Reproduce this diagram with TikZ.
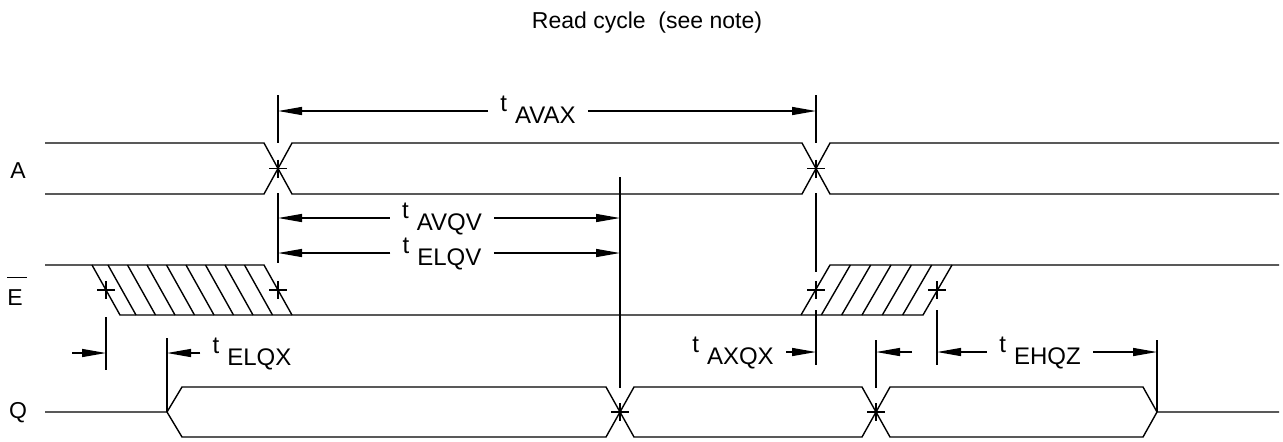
\documentclass[tikz,border=0pt]{standalone}
\usepackage{fontspec}
\setmainfont{Liberation Sans}
\usetikzlibrary{arrows.meta}

\tikzset{
  wave/.style={line width=0.7pt},
  guide/.style={line width=0.7pt},
  dim/.style={line width=0.7pt, -{Triangle[length=12pt,width=4pt]}},
  tlab/.style={font=\fontsize{12}{14}\selectfont, inner xsep=6pt, inner ysep=0pt, anchor=base},
  sig/.style={font=\fontsize{11.5}{13}\selectfont, inner sep=0pt},
  edgemark/.pic={\draw[line width=0.7pt] (-9,0) -- (9,0) (0,-9) -- (0,9);},
}
\newcommand\tsub[1]{t\hspace{4pt}\raisebox{-6pt}{#1}}

\begin{document}
\begin{tikzpicture}[x=0.5pt, y=-0.5pt]
    \useasboundingbox (0,0) rectangle (1283,441);
    \node[font=\fontsize{11.5}{13}\selectfont, anchor=base] (title) at (647,28) {Read cycle\ \ (see note)};

    % signal names
    \node[sig] (lA) at (18,171) {A};
    \node[sig] (lE) at (15,298) {E};
    \draw[guide] ([xshift=-4pt,yshift=6pt]lE.north) -- ([xshift=6pt,yshift=6pt]lE.north);
    \node[sig] (lQ) at (18,413) {Q};

    % A
    \draw[wave] (45,143) -- (264,143) -- (292,194) -- (802,194) -- (830,143) -- (1279,143);
    \draw[wave] (45,194) -- (264,194) -- (292,143) -- (802,143) -- (830,194) -- (1279,194);

    % E
    \draw[wave] (45,265) -- (264,265) -- (292,315);
    \draw[wave] (92,265) -- (120,315) -- (923,315) -- (952,265);
    \draw[wave] (801,315) -- (830,265) -- (1279,265);
    \foreach \k in {1,...,8}
        \draw[wave] (264-19.5*\k,265) -- ++(28,50);
    \foreach \k in {1,...,5}
        \draw[wave] (830+20.33*\k,265) -- ++(-29,50);

    % Q
    \draw[wave] (45,412) -- (167,412) -- (182,387) -- (606,387) -- (634,437) -- (862,437) -- (890,387) -- (1143,387) -- (1157,412) -- (1279,412);
    \draw[wave] (167,412) -- (182,437) -- (606,437) -- (634,387) -- (862,387) -- (890,437) -- (1143,437) -- (1157,412);

    % edge marks
    \foreach \p in {(278,168.5),(816,168.5),(106,290),(278,290),(816,290),(937,290),(620,412),(876,412)}
        \pic at \p {edgemark};

    % reference lines
    \draw[guide] (278,95) -- (278,143) (278,193) -- (278,263);
    \draw[guide] (816,95) -- (816,143) (816,193) -- (816,272) (816,310) -- (816,365);
    \draw[guide] (620,177) -- (620,388);
    \draw[guide] (106,317) -- (106,370);
    \draw[guide] (167,338) -- (167,412);
    \draw[guide] (876,340) -- (876,388);
    \draw[guide] (937,310) -- (937,365);
    \draw[guide] (1157,340) -- (1157,412);

    % arrow ends
    \coordinate (avax-l) at (278,111);
    \coordinate (avax-r) at (816,111);
    \coordinate (avqv-l) at (278,218);
    \coordinate (avqv-r) at (620,218);
    \coordinate (elqv-l) at (278,253);
    \coordinate (elqv-r) at (620,253);
    \coordinate (ehl-from) at (72,353);
    \coordinate (ehl) at (106,353);
    \coordinate (elqx) at (167,353);
    \coordinate (axqx) at (816,352);
    \coordinate (qz-from) at (912,352);
    \coordinate (qz) at (876,352);
    \coordinate (ehqz-l) at (937,352);
    \coordinate (ehqz-r) at (1157,352);

    % timing labels
    \node[tlab] (tavax) at (538,111) {\tsub{AVAX}};
    \node[tlab] (tavqv) at (442,218) {\tsub{AVQV}};
    \node[tlab] (telqv) at (442,253) {\tsub{ELQV}};
    \node[tlab] (telqx) at (252,353) {\tsub{ELQX}};
    \node[tlab] (taxqx) at (733,352) {\tsub{AXQX}};
    \node[tlab] (tehqz) at (1040,352) {\tsub{EHQZ}};

    \draw[dim] (tavax.base west) -- (avax-l);
    \draw[dim] (tavax.base east) -- (avax-r);
    \draw[dim] (tavqv.base west) -- (avqv-l);
    \draw[dim] (tavqv.base east) -- (avqv-r);
    \draw[dim] (telqv.base west) -- (elqv-l);
    \draw[dim] (telqv.base east) -- (elqv-r);
    \draw[dim] (ehl-from) -- (ehl);
    \draw[dim] (telqx.base west) -- (elqx);
    \draw[dim] (taxqx.base east) -- (axqx);
    \draw[dim] (qz-from) -- (qz);
    \draw[dim] (tehqz.base west) -- (ehqz-l);
    \draw[dim] (tehqz.base east) -- (ehqz-r);
\end{tikzpicture}
\end{document}
